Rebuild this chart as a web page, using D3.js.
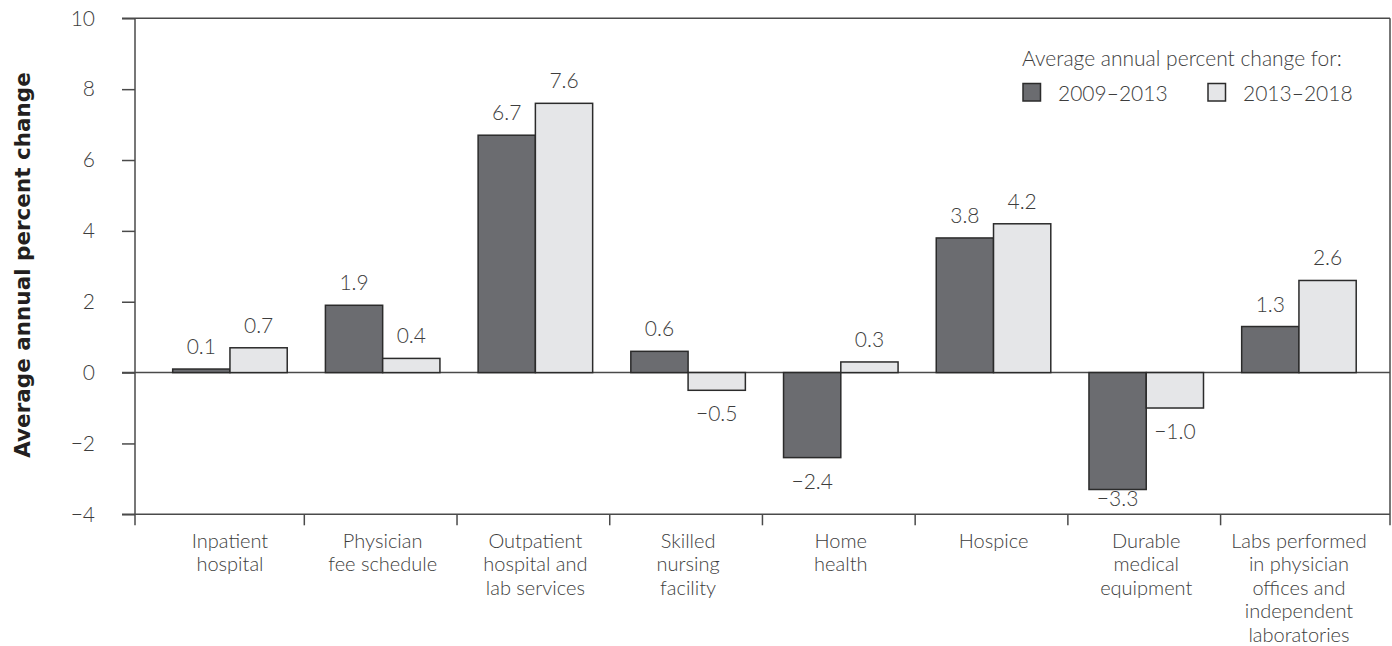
<!DOCTYPE html>
<html>
<head>
<meta charset="utf-8">
<script src="https://cdn.jsdelivr.net/npm/d3@7"></script>
<style>
  body { margin: 0; background: #fff; }
  svg text { font-family: "Lato", "Open Sans", sans-serif; font-weight: 300; fill: #3d3d3d; }
</style>
</head>
<body>
<svg id="chart" width="1392" height="646"></svg>
<script>
const categories = [
  "Inpatient\nhospital",
  "Physician\nfee schedule",
  "Outpatient\nhospital and\nlab services",
  "Skilled\nnursing\nfacility",
  "Home\nhealth",
  "Hospice",
  "Durable\nmedical\nequipment",
  "Labs performed\nin physician\noffices and\nindependent\nlaboratories",
];
const seriesNames = ["2009–2013", "2013–2018"];
const values2009 = [0.1, 1.9, 6.7, 0.6, -2.4, 3.8, -3.3, 1.3];
const values2013 = [0.7, 0.4, 7.6, -0.5, 0.3, 4.2, -1.0, 2.6];
const yTicks = [-4, -2, 0, 2, 4, 6, 8, 10];
const legendTitle = "Average annual percent change for:";
const yTitle = "Average annual percent change";

const colors = ["#6b6c70", "#e5e6e8"];
const lineColor = "#4a4a4a";

const svg = d3.select("#chart");
const m = { left: 135, right: 1390, top: 18.3, bottom: 514.3 };

const y = d3.scaleLinear().domain([-4, 10]).range([m.bottom, m.top]);

const x = d3
  .scaleBand()
  .domain(categories)
  .range([153.6, 1375.3])
  .paddingInner(0.25)
  .paddingOuter(0.125);

const xs = d3.scaleBand().domain(seriesNames).range([0, x.bandwidth()]);

const data = categories.map((c, i) => ({
  cat: c,
  vals: [
    { s: seriesNames[0], v: values2009[i] },
    { s: seriesNames[1], v: values2013[i] },
  ],
}));

const hline = (yy, x1, x2) =>
  svg.append("line")
    .attr("x1", x1).attr("x2", x2)
    .attr("y1", yy).attr("y2", yy)
    .attr("stroke", lineColor).attr("stroke-width", 1.5);
const vline = (xx, y1, y2) =>
  svg.append("line")
    .attr("x1", xx).attr("x2", xx)
    .attr("y1", y1).attr("y2", y2)
    .attr("stroke", lineColor).attr("stroke-width", 1.5);

// frame + axes lines
hline(m.top, m.left - 13, m.right);
vline(m.right, m.top, m.bottom + 11);
vline(m.left, m.top, m.bottom + 11);
hline(m.bottom, m.left - 13, m.right);

// y axis
const yAxis = svg.append("g")
  .attr("transform", `translate(${m.left},0)`)
  .call(d3.axisLeft(y).tickValues(yTicks).tickSize(13).tickSizeOuter(0).tickPadding(27)
    .tickFormat((d) => (d < 0 ? "\u2212" + Math.abs(d) : d)));
yAxis.select(".domain").remove();
yAxis.selectAll(".tick line").attr("stroke", lineColor).attr("stroke-width", 1.5);
yAxis.selectAll(".tick text").style("font-size", "21px").attr("fill", "#3d3d3d");

// zero line
hline(y(0), m.left - 13, m.right);

// category separators
svg.selectAll(".sep")
  .data(categories.slice(1))
  .join("line")
  .attr("class", "sep")
  .attr("x1", (d) => x(d) - x.step() * x.paddingInner() / 2 - 2)
  .attr("x2", (d) => x(d) - x.step() * x.paddingInner() / 2 - 2)
  .attr("y1", m.bottom).attr("y2", m.bottom + 11)
  .attr("stroke", lineColor).attr("stroke-width", 1.5);

// bars
const groups = svg.selectAll(".grp")
  .data(data)
  .join("g")
  .attr("class", "grp")
  .attr("transform", (d) => `translate(${x(d.cat)},0)`);

groups.selectAll("rect")
  .data((d) => d.vals)
  .join("rect")
  .attr("x", (d) => xs(d.s))
  .attr("width", xs.bandwidth())
  .attr("y", (d) => y(Math.max(0, d.v)))
  .attr("height", (d) => Math.abs(y(d.v) - y(0)))
  .attr("fill", (d, i) => colors[i])
  .attr("stroke", "#2b2b2b")
  .attr("stroke-width", 1.5);

groups.selectAll(".val")
  .data((d) => d.vals)
  .join("text")
  .attr("class", "val")
  .attr("x", (d) => xs(d.s) + xs.bandwidth() / 2)
  .attr("y", (d) => (d.v >= 0 ? y(d.v) - 15 : Math.min(y(d.v) + 31, m.bottom - 8)))
  .attr("text-anchor", "middle")
  .style("font-size", "21px")
  .text((d) => (d.v < 0 ? "\u2212" + Math.abs(d.v).toFixed(1) : d.v.toFixed(1)));

// category labels
svg.selectAll(".cat")
  .data(categories)
  .join("text")
  .attr("class", "cat")
  .attr("text-anchor", "middle")
  .style("font-size", "20px")
  .attr("transform", (d) => `translate(${x(d) + x.bandwidth() / 2},548)`)
  .selectAll("tspan")
  .data((d) => d.split("\n"))
  .join("tspan")
  .attr("x", 0)
  .attr("y", (d, i) => i * 23.4)
  .text((d) => d);

// y title
svg.append("text")
  .attr("transform", `translate(30,265) rotate(-90)`)
  .attr("text-anchor", "middle")
  .style("font-family", "'DejaVu Sans', sans-serif")
  .style("font-size", "21.5px")
  .style("font-weight", "bold")
  .style("fill", "#231f20")
  .text(yTitle);

// legend
const legend = svg.append("g").attr("transform", "translate(1022,66)");
legend.append("text").style("font-size", "21px").text(legendTitle);
const items = legend.selectAll(".item")
  .data(seriesNames)
  .join("g")
  .attr("class", "item")
  .attr("transform", (d, i) => `translate(${i * 185},0)`);
items.append("rect")
  .attr("x", 1).attr("y", 17.5)
  .attr("width", 17.5).attr("height", 17.5)
  .attr("fill", (d, i) => colors[i])
  .attr("stroke", "#2b2b2b").attr("stroke-width", 1.5);
items.append("text")
  .attr("x", 36).attr("y", 35)
  .style("font-size", "21px")
  .text((d) => d);
</script>
</body>
</html>
